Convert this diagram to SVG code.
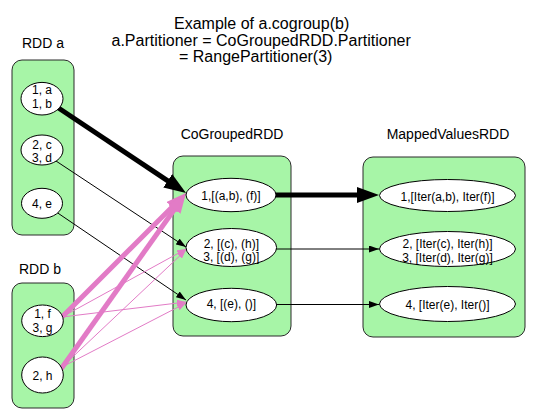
<svg xmlns="http://www.w3.org/2000/svg" width="535" height="419" viewBox="0 0 535 419">
<style>
.box{fill:#a7f5a7;stroke:#2a2a2a;stroke-width:1}
.part{fill:#fff;stroke:#000;stroke-width:1}
text{font-family:"Liberation Sans",Arial,Helvetica,sans-serif;fill:#000}
.t{font-size:12px;text-anchor:middle}
.lbl{font-size:14px;text-anchor:middle}
.title{font-size:16px}
.thickB{stroke:#000;stroke-width:5;fill:none}
.thinB{stroke:#000;stroke-width:1;fill:none}
.thickP{stroke:#e27bc6;stroke-width:5;fill:none}
.thinP{stroke:#e27bc6;stroke-width:1;fill:none}
</style>
<defs>
<marker id="hB" viewBox="0 0 22 16" refX="6" refY="8" markerWidth="22" markerHeight="16" markerUnits="userSpaceOnUse" orient="auto"><path d="M0,0 L22,8 L0,16 z" fill="#000"/></marker>
<marker id="hb" viewBox="0 0 10 7" refX="10" refY="3.5" markerWidth="10" markerHeight="7" markerUnits="userSpaceOnUse" orient="auto"><path d="M0,0 L10,3.5 L0,7 z" fill="#000"/></marker>
<marker id="hP" viewBox="0 0 20 15" refX="5" refY="7.5" markerWidth="20" markerHeight="15" markerUnits="userSpaceOnUse" orient="auto"><path d="M0,0 L20,7.5 L0,15 z" fill="#e27bc6"/></marker>
<marker id="hp" viewBox="0 0 9 7" refX="9" refY="3.5" markerWidth="9" markerHeight="7" markerUnits="userSpaceOnUse" orient="auto"><path d="M0,0 L9,3.5 L0,7 z" fill="#e27bc6"/></marker>
</defs>
<g id="title">
<text class="title" x="174" y="29">Example of a.cogroup(b)</text>
<text class="title" x="111.5" y="46">a.Partitioner = CoGroupedRDD.Partitioner</text>
<text class="title" x="179" y="62">= RangePartitioner(3)</text>
</g>
<g id="rddA">
<text class="lbl" x="43" y="48">RDD a</text>
<rect class="box" x="12" y="60" width="62" height="175" rx="10"/>
</g>
<g id="rddB">
<text class="lbl" x="40" y="274">RDD b</text>
<rect class="box" x="12" y="283" width="62" height="125" rx="10"/>
</g>
<g id="cogrouped">
<text class="lbl" x="232" y="139">CoGroupedRDD</text>
<rect class="box" x="173" y="156" width="118" height="180" rx="10"/>
</g>
<g id="mapped">
<text class="lbl" x="448" y="139">MappedValuesRDD</text>
<rect class="box" x="363" y="157" width="162" height="180" rx="10"/>
</g>
<g id="connectors">
<path class="thinB" d="M56,161 L186,247" marker-end="url(#hb)"/>
<path class="thinB" d="M57,212.5 L186,300" marker-end="url(#hb)"/>
<path class="thinP" d="M62,317 L186,249" marker-end="url(#hp)"/>
<path class="thinP" d="M62,317 L186,302" marker-end="url(#hp)"/>
<path class="thinP" d="M62,367 L186,250" marker-end="url(#hp)"/>
<path class="thinP" d="M62,367 L186,303" marker-end="url(#hp)"/>
<path class="thickP" d="M62,317 L175.4,203.7" marker-end="url(#hP)"/>
<path class="thickP" d="M61,369 L177.3,205.3" marker-end="url(#hP)"/>
<path class="thickB" d="M57,107 L172.7,184.1" marker-end="url(#hB)"/>
<path class="thickB" d="M270,195 L363,195" marker-end="url(#hB)"/>
<path class="thinB" d="M270,249 L379,249" marker-end="url(#hb)"/>
<path class="thinB" d="M270,304.5 L379,304.5" marker-end="url(#hb)"/>
</g>
<g id="a1"><ellipse class="part" cx="42" cy="98.7" rx="21" ry="16.3"/><text class="t" x="42" y="94.3">1, a</text><text class="t" x="42" y="108.3">1, b</text></g>
<g id="a2"><ellipse class="part" cx="42" cy="150" rx="21" ry="15"/><text class="t" x="42" y="149">2, c</text><text class="t" x="42" y="162.3">3, d</text></g>
<g id="a3"><ellipse class="part" cx="42" cy="203.3" rx="20.5" ry="15"/><text class="t" x="42" y="208.3">4, e</text></g>
<g id="b1"><ellipse class="part" cx="42.5" cy="320.8" rx="20.8" ry="15.8"/><text class="t" x="42.5" y="318.3">1, f</text><text class="t" x="42.5" y="331.7">3, g</text></g>
<g id="b2"><ellipse class="part" cx="42.5" cy="375" rx="20.8" ry="18"/><text class="t" x="42.5" y="380">2, h</text></g>
<g id="c1"><ellipse class="part" cx="231" cy="195" rx="45" ry="16.7"/><text class="t" x="231" y="200">1,[(a,b), (f)]</text></g>
<g id="c2"><ellipse class="part" cx="231.3" cy="247.5" rx="45.3" ry="19"/><text class="t" x="231.3" y="247.7">2, [(c), (h)]</text><text class="t" x="231.3" y="261">3, [(d), (g)]</text></g>
<g id="c3"><ellipse class="part" cx="231.3" cy="305" rx="45.3" ry="16.7"/><text class="t" x="231.3" y="308.3">4, [(e), ()]</text></g>
<g id="m1"><ellipse class="part" cx="447.5" cy="195.5" rx="68" ry="16"/><text class="t" x="447.5" y="201">1,[Iter(a,b), Iter(f)]</text></g>
<g id="m2"><ellipse class="part" cx="447.5" cy="249" rx="68" ry="17.5"/><text class="t" x="447.5" y="248">2, [Iter(c), Iter(h)]</text><text class="t" x="447.5" y="261.5">3, [Iter(d), Iter(g)]</text></g>
<g id="m3"><ellipse class="part" cx="447.5" cy="304" rx="68" ry="17.5"/><text class="t" x="447.5" y="308.5">4, [Iter(e), Iter()]</text></g>
</svg>
